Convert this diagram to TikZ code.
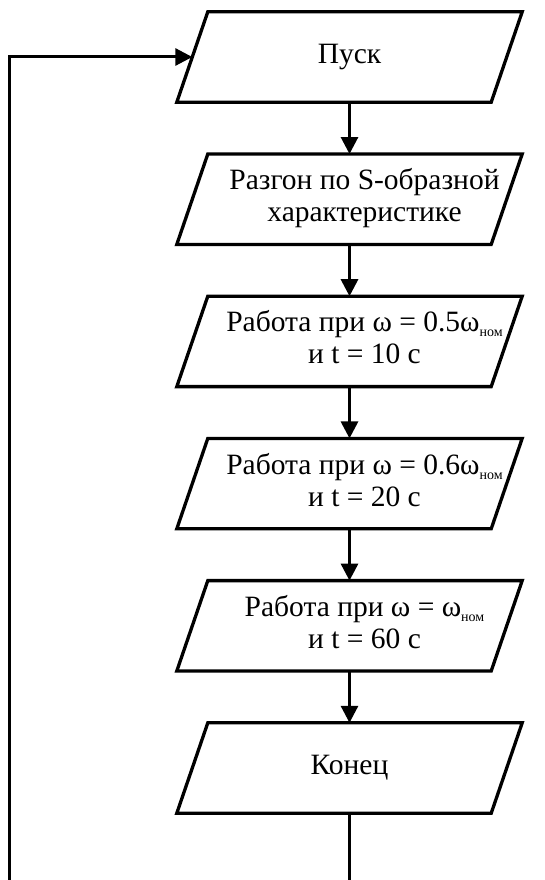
\documentclass[tikz,border=0pt]{standalone}
\usepackage{fontspec}
\setmainfont{Liberation Serif}
\usetikzlibrary{arrows.meta,calc}
\newcommand{\nomsub}{\raisebox{-5pt}{\fontsize{14}{14}\selectfont ном}}
\newcommand{\shiftedtext}[1]{\hspace*{30pt}\begin{tabular}{@{}c@{}}#1\end{tabular}}
\tikzset{
  blockbox/.style={rectangle, minimum width=314pt, minimum height=90pt, inner sep=0pt,
    align=center, font=\fontsize{29.5}{32}\selectfont},
  paraline/.style={line width=3.3pt, line join=miter},
  flowarrow/.style={line width=3pt, -{Triangle[length=17pt,width=17pt]}},
  flowline/.style={line width=3pt}
}
\newcommand{\drawpara}[1]{%
  \draw[paraline] ($(#1.north west)+(15.5pt,0)$) -- ($(#1.north east)+(15.5pt,0)$)
    -- ($(#1.south east)+(-15.5pt,0)$) -- ($(#1.south west)+(-15.5pt,0)$) -- cycle;}
\begin{document}
\begin{tikzpicture}[x=1pt,y=-1pt]
\useasboundingbox (0,0) rectangle (545,880);
\node[blockbox] (a) at (349.5,57) {Пуск};
\node[blockbox] (b) at (349.5,199.2) {\shiftedtext{Разгон по S-образной\\характеристике}};
\node[blockbox] (c) at (349.5,341.4) {\shiftedtext{Работа при ω = 0.5ω\nomsub\\и t = 10 с}};
\node[blockbox] (d) at (349.5,483.6) {\shiftedtext{Работа при ω = 0.6ω\nomsub\\и t = 20 с}};
\node[blockbox] (e) at (349.5,625.8) {\shiftedtext{Работа при ω = ω\nomsub\\и t = 60 с}};
\node[blockbox] (f) at (349.5,768) {Конец};
\foreach \n in {a,b,c,d,e,f}{\drawpara{\n}}
\coordinate (fb) at (349.5,882);
\coordinate (lb) at (9,882);
\draw[flowarrow] (a) -- (b);
\draw[flowarrow] (b) -- (c);
\draw[flowarrow] (c) -- (d);
\draw[flowarrow] (d) -- (e);
\draw[flowarrow] (e) -- (f);
\draw[flowline] (f.south) -- (fb);
\draw[flowarrow] (lb) |- (a.west);
\end{tikzpicture}
\end{document}
